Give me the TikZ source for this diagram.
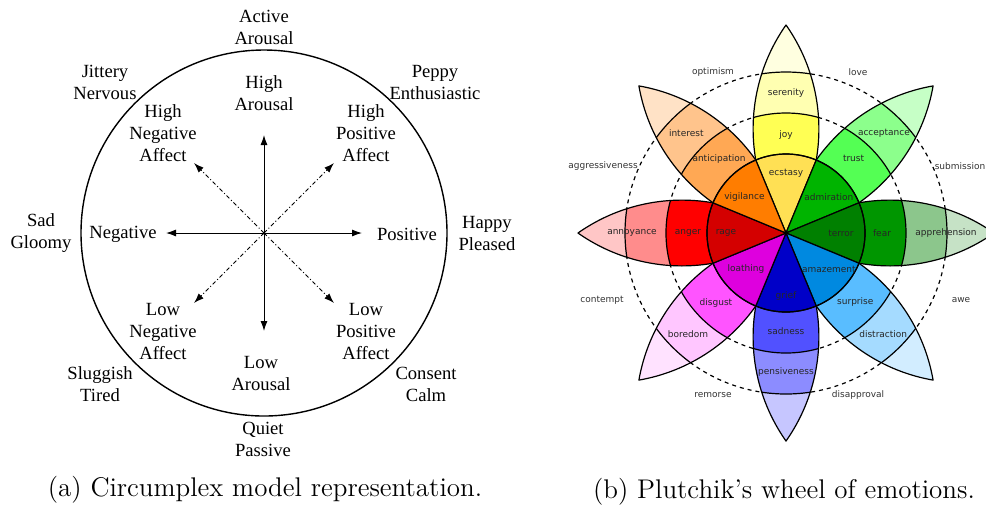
\documentclass[tikz,border=0pt]{standalone}
\usepackage{fontspec}
\newfontfamily\circfont{Liberation Serif}
\newfontfamily\wheelfont{DejaVu Sans}
\usetikzlibrary{arrows.meta}

% petal colours: A inner, B middle, C outer, D tip
\definecolor{joyA}{HTML}{FFE054}\definecolor{joyB}{HTML}{FFFF54}\definecolor{joyC}{HTML}{FFFFB1}\definecolor{joyD}{HTML}{FFFFE0}
\definecolor{trustA}{HTML}{00B400}\definecolor{trustB}{HTML}{54FF54}\definecolor{trustC}{HTML}{8CFF8C}\definecolor{trustD}{HTML}{C6FFC6}
\definecolor{fearA}{HTML}{008000}\definecolor{fearB}{HTML}{009600}\definecolor{fearC}{HTML}{8CC68C}\definecolor{fearD}{HTML}{C6E2C6}
\definecolor{surpA}{HTML}{0089E0}\definecolor{surpB}{HTML}{59BDFF}\definecolor{surpC}{HTML}{A5DBFF}\definecolor{surpD}{HTML}{D2EDFF}
\definecolor{sadA}{HTML}{0000C8}\definecolor{sadB}{HTML}{5151FF}\definecolor{sadC}{HTML}{8C8CFF}\definecolor{sadD}{HTML}{C6C6FF}
\definecolor{disgA}{HTML}{DE00DE}\definecolor{disgB}{HTML}{FF54FF}\definecolor{disgC}{HTML}{FFC6FF}\definecolor{disgD}{HTML}{FFE2FF}
\definecolor{angA}{HTML}{D40000}\definecolor{angB}{HTML}{FF0000}\definecolor{angC}{HTML}{FF8C8C}\definecolor{angD}{HTML}{FFC6C6}
\definecolor{antA}{HTML}{FF7D00}\definecolor{antB}{HTML}{FFA854}\definecolor{antC}{HTML}{FFC48C}\definecolor{antD}{HTML}{FFE2C6}

\newcommand\petalpath{(0,0) arc[start angle=125.1,end angle=54.9,radius=180.9] arc[start angle=-54.9,end angle=-125.1,radius=180.9] -- cycle}

\begin{document}
\begin{tikzpicture}[x=0.5pt,y=-0.5pt,
  circ/.style={font=\circfont\fontsize{9.3}{11}\selectfont,align=center,inner sep=0pt},
  captxt/.style={font=\fontsize{13.5}{16}\selectfont,inner sep=0pt},
  emo/.style={font=\wheelfont\fontsize{4.5}{5}\selectfont,text=black!85,inner sep=0pt},
  mix/.style={emo,text=black!80},
  axis/.style={line width=0.5pt,-{Latex[length=5pt,width=3.5pt]}},
  diag/.style={axis,dash pattern=on 2pt off 1.2pt on 0.5pt off 1.2pt},
  wline/.style={line width=0.6pt,line join=round},
  ring/.style={line width=0.6pt,dash pattern=on 2pt off 2pt}]
  \useasboundingbox (0,0) rectangle (986,511);

  % circumplex model
  \coordinate (o) at (264,233);
  \draw[line width=0.7pt] (o) circle[radius=183];
  \fill (o) circle[radius=1.5];
  \coordinate (up) at (264,135);
  \coordinate (down) at (264,331);
  \coordinate (left) at (166,233);
  \coordinate (right) at (362,233);
  \coordinate (nw) at (194,163);
  \coordinate (ne) at (334,163);
  \coordinate (sw) at (194,303);
  \coordinate (se) at (334,303);
  \draw[axis] (o) -- (up);
  \draw[axis] (o) -- (down);
  \draw[axis] (o) -- (left);
  \draw[axis] (o) -- (right);
  \draw[diag] (o) -- (nw);
  \draw[diag] (o) -- (ne);
  \draw[diag] (o) -- (sw);
  \draw[diag] (o) -- (se);

  \node[circ] (active) at (264,27.5) {Active\\Arousal};
  \node[circ] (higharo) at (264,93) {High\\Arousal};
  \node[circ] (jittery) at (105,82.5) {Jittery\\Nervous};
  \node[circ] (peppy) at (435,82.5) {Peppy\\Enthusiastic};
  \node[circ] (highneg) at (163,133.5) {High\\Negative\\Affect};
  \node[circ] (highpos) at (366,133.5) {High\\Positive\\Affect};
  \node[circ] (sad) at (41,233.5) {Sad\\Gloomy};
  \node[circ] (negative) at (123,234) {Negative};
  \node[circ] (positive) at (407,234) {Positive};
  \node[circ] (happy) at (487,233.5) {Happy\\Pleased};
  \node[circ] (lowneg) at (163,331) {Low\\Negative\\Affect};
  \node[circ] (lowpos) at (366,331) {Low\\Positive\\Affect};
  \node[circ] (lowaro) at (261,373.5) {Low\\Arousal};
  \node[circ] (sluggish) at (100,384) {Sluggish\\Tired};
  \node[circ] (consent) at (426,384) {Consent\\Calm};
  \node[circ] (quiet) at (263,439) {Quiet\\Passive};
  \node[captxt] (capa) at (265,490) {(a) Circumplex model representation.};

  % Plutchik's wheel
  \begin{scope}[shift={(786,233)},x=0.5pt,y=0.5pt]
    \draw[ring] (0,0) circle[radius=120] (0,0) circle[radius=161];
    \foreach \ang/\cb/\cc/\cd in {90/joyB/joyC/joyD,45/trustB/trustC/trustD,0/fearB/fearC/fearD,-45/surpB/surpC/surpD,
        -90/sadB/sadC/sadD,-135/disgB/disgC/disgD,180/angB/angC/angD,135/antB/antC/antD}{
      \begin{scope}[rotate=\ang]
        \begin{scope}
          \clip \petalpath;
          \fill[\cd] (0,0) circle[radius=215];
          \fill[\cc] (0,0) circle[radius=161];
          \fill[\cb] (0,0) circle[radius=120];
          \draw[wline] (0,0) circle[radius=161] (0,0) circle[radius=120];
        \end{scope}
        \draw[wline] \petalpath;
      \end{scope}
    }
    \foreach \ang/\ca in {90/joyA,45/trustA,0/fearA,-45/surpA,-90/sadA,-135/disgA,180/angA,135/antA}
      \filldraw[wline,fill=\ca] (0,0) -- (\ang-22.5:79) arc[start angle=\ang-22.5,end angle=\ang+22.5,radius=79] -- cycle;
    \draw[wline] (0,0) circle[radius=79];

    \foreach \a/\r/\t in {90/60/ecstasy,40/56/admiration,0/55/terror,-40/56/amazement,-90/63/grief,-138/54/loathing,180/60/rage,139/55/vigilance,
        90/98/joy,48/101/trust,0/96/fear,-45/98/surprise,-90/98/sadness,-135/99/disgust,180/98/anger,132/100/anticipation,
        90/140/serenity,45.6/140/acceptance,0/160/apprehension,-46/140/distraction,-90/139/pensiveness,-134/141/boredom,180/154/annoyance,135/141/interest}
      \node[emo] (\t) at (\a:\r) {\t};

    \node[mix] (optimism) at (-73,161) {optimism};
    \node[mix] (love) at (72,161) {love};
    \node[mix] (submission) at (174,67) {submission};
    \node[mix] (awe) at (175,-67) {awe};
    \node[mix] (disapproval) at (72,-162) {disapproval};
    \node[mix] (remorse) at (-73,-162) {remorse};
    \node[mix] (contempt) at (-184,-67) {contempt};
    \node[mix] (aggressiveness) at (-183,67) {aggressiveness};
  \end{scope}
  \node[captxt] (capb) at (784,492) {(b) Plutchik's wheel of emotions.};
\end{tikzpicture}
\end{document}
